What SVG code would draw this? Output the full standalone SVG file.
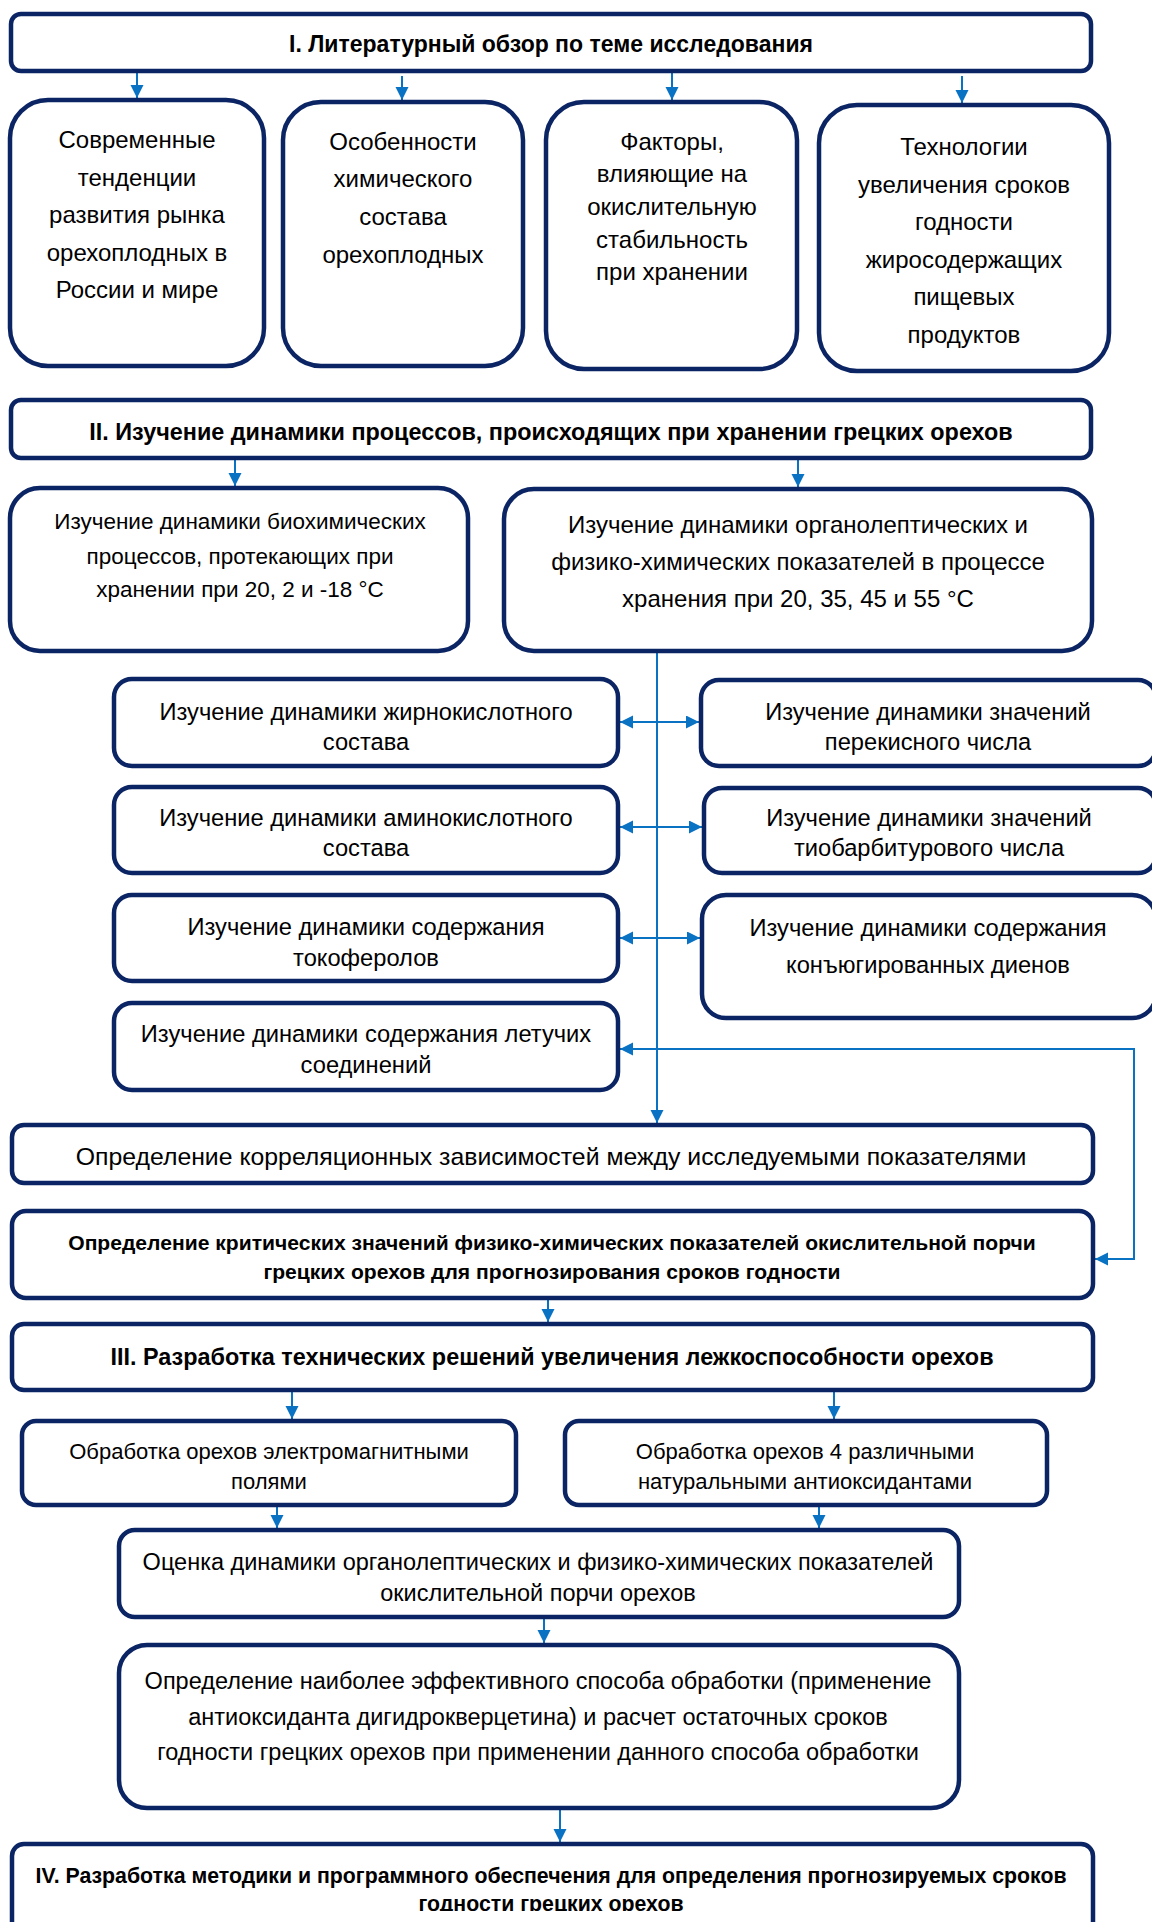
<svg xmlns="http://www.w3.org/2000/svg" width="1152" height="1922" viewBox="0 0 1152 1922">
<style>
.box{fill:#fff;stroke:#0b2463;stroke-width:4.5}
.t{font-family:"Liberation Sans",Arial,sans-serif;fill:#000;text-anchor:middle}
.b{font-weight:bold}
.c{fill:none;stroke:#0a72c2;stroke-width:2}
</style>
<defs>
<marker id="ah" markerUnits="userSpaceOnUse" markerWidth="14" markerHeight="14" refX="13" refY="6.5" orient="auto-start-reverse">
<path d="M0,0 L13,6.5 L0,13 z" fill="#0a72c2"/>
</marker>
<clipPath id="clipIV"><rect x="0" y="0" width="1152" height="1911"/></clipPath>
</defs>
<rect width="1152" height="1922" fill="#fff"/>

<g id="connectors">
<line class="c" x1="137" y1="73" x2="137" y2="98" marker-end="url(#ah)"/>
<line class="c" x1="402" y1="76" x2="402" y2="100" marker-end="url(#ah)"/>
<line class="c" x1="672" y1="73" x2="672" y2="100" marker-end="url(#ah)"/>
<line class="c" x1="962" y1="76" x2="962" y2="103" marker-end="url(#ah)"/>
<line class="c" x1="235" y1="460" x2="235" y2="486" marker-end="url(#ah)"/>
<line class="c" x1="798" y1="460" x2="798" y2="487" marker-end="url(#ah)"/>
<line class="c" x1="657" y1="653" x2="657" y2="1123" marker-end="url(#ah)"/>
<line class="c" x1="620" y1="722" x2="699" y2="722" marker-start="url(#ah)" marker-end="url(#ah)"/>
<line class="c" x1="620" y1="827" x2="702" y2="827" marker-start="url(#ah)" marker-end="url(#ah)"/>
<line class="c" x1="620" y1="938" x2="700" y2="938" marker-start="url(#ah)" marker-end="url(#ah)"/>
<path class="c" d="M620,1049 H1134 V1259 H1095" marker-start="url(#ah)" marker-end="url(#ah)"/>
<line class="c" x1="548" y1="1300" x2="548" y2="1322" marker-end="url(#ah)"/>
<line class="c" x1="292" y1="1392" x2="292" y2="1419" marker-end="url(#ah)"/>
<line class="c" x1="834" y1="1392" x2="834" y2="1419" marker-end="url(#ah)"/>
<line class="c" x1="277" y1="1507" x2="277" y2="1528" marker-end="url(#ah)"/>
<line class="c" x1="819" y1="1507" x2="819" y2="1528" marker-end="url(#ah)"/>
<line class="c" x1="544" y1="1619" x2="544" y2="1643" marker-end="url(#ah)"/>
<line class="c" x1="560" y1="1810" x2="560" y2="1842" marker-end="url(#ah)"/>
</g>

<g id="n_I">
<rect class="box" x="11" y="14" width="1080" height="57" rx="10"/>
<text class="t b" x="551" y="52" font-size="23">I. Литературный обзор по теме исследования</text>
</g>

<g id="n_A">
<rect class="box" x="10" y="100" width="254" height="266" rx="38"/>
<text class="t" font-size="24"><tspan x="137" y="148">Современные</tspan><tspan x="137" y="186">тенденции</tspan><tspan x="137" y="223">развития рынка</tspan><tspan x="137" y="261">орехоплодных в</tspan><tspan x="137" y="298">России и мире</tspan></text>
</g>

<g id="n_B">
<rect class="box" x="283" y="102" width="240" height="264" rx="38"/>
<text class="t" font-size="24"><tspan x="403" y="150">Особенности</tspan><tspan x="403" y="187">химического</tspan><tspan x="403" y="225">состава</tspan><tspan x="403" y="263">орехоплодных</tspan></text>
</g>

<g id="n_C">
<rect class="box" x="546" y="102" width="251" height="267" rx="38"/>
<text class="t" font-size="24"><tspan x="672" y="150">Факторы,</tspan><tspan x="672" y="182">влияющие на</tspan><tspan x="672" y="215">окислительную</tspan><tspan x="672" y="248">стабильность</tspan><tspan x="672" y="280">при хранении</tspan></text>
</g>

<g id="n_D">
<rect class="box" x="819" y="105" width="290" height="266" rx="38"/>
<text class="t" font-size="24"><tspan x="964" y="155">Технологии</tspan><tspan x="964" y="193">увеличения сроков</tspan><tspan x="964" y="230">годности</tspan><tspan x="964" y="268">жиросодержащих</tspan><tspan x="964" y="305">пищевых</tspan><tspan x="964" y="343">продуктов</tspan></text>
</g>

<g id="n_II">
<rect class="box" x="11" y="400" width="1080" height="58" rx="10"/>
<text class="t b" x="551" y="440" font-size="23.4">II. Изучение динамики процессов, происходящих при хранении грецких орехов</text>
</g>

<g id="n_IIA">
<rect class="box" x="10" y="488" width="458" height="163" rx="30"/>
<text class="t" font-size="22.5"><tspan x="240" y="529">Изучение динамики биохимических</tspan><tspan x="240" y="564">процессов, протекающих при</tspan><tspan x="240" y="597">хранении при 20, 2 и -18 °С</tspan></text>
</g>

<g id="n_IIB">
<rect class="box" x="504" y="489" width="588" height="162" rx="30"/>
<text class="t" font-size="24"><tspan x="798" y="533">Изучение динамики органолептических и</tspan><tspan x="798" y="570">физико-химических показателей в процессе</tspan><tspan x="798" y="607">хранения при 20, 35, 45 и 55 °С</tspan></text>
</g>

<g id="n_L1">
<rect class="box" x="114" y="679" width="504" height="87" rx="18"/>
<text class="t" font-size="23.7"><tspan x="366" y="720">Изучение динамики жирнокислотного</tspan><tspan x="366" y="750">состава</tspan></text>
</g>

<g id="n_L2">
<rect class="box" x="114" y="787" width="504" height="86" rx="18"/>
<text class="t" font-size="23.7"><tspan x="366" y="826">Изучение динамики аминокислотного</tspan><tspan x="366" y="856">состава</tspan></text>
</g>

<g id="n_L3">
<rect class="box" x="114" y="895" width="504" height="86" rx="18"/>
<text class="t" font-size="23.7"><tspan x="366" y="935">Изучение динамики содержания</tspan><tspan x="366" y="966">токоферолов</tspan></text>
</g>

<g id="n_L4">
<rect class="box" x="114" y="1003" width="504" height="87" rx="18"/>
<text class="t" font-size="23.7"><tspan x="366" y="1042">Изучение динамики содержания летучих</tspan><tspan x="366" y="1073">соединений</tspan></text>
</g>

<g id="n_R1">
<rect class="box" x="701" y="680" width="455" height="86" rx="18"/>
<text class="t" font-size="23.7"><tspan x="928" y="720">Изучение динамики значений</tspan><tspan x="928" y="750">перекисного числа</tspan></text>
</g>

<g id="n_R2">
<rect class="box" x="704" y="788" width="452" height="85" rx="18"/>
<text class="t" font-size="23.7"><tspan x="929" y="826">Изучение динамики значений</tspan><tspan x="929" y="856">тиобарбитурового числа</tspan></text>
</g>

<g id="n_R3">
<rect class="box" x="702" y="895" width="454" height="123" rx="24"/>
<text class="t" font-size="23.7"><tspan x="928" y="936">Изучение динамики содержания</tspan><tspan x="928" y="973">конъюгированных диенов</tspan></text>
</g>

<g id="n_corr">
<rect class="box" x="12" y="1125" width="1081" height="58" rx="12"/>
<text class="t" x="551" y="1165" font-size="24.8">Определение корреляционных зависимостей между исследуемыми показателями</text>
</g>

<g id="n_crit">
<rect class="box" x="12" y="1211" width="1081" height="87" rx="14"/>
<text class="t b" font-size="21.1"><tspan x="552" y="1250">Определение критических значений физико-химических показателей окислительной порчи</tspan><tspan x="552" y="1279">грецких орехов для прогнозирования сроков годности</tspan></text>
</g>

<g id="n_III">
<rect class="box" x="12" y="1324" width="1081" height="66" rx="12"/>
<text class="t b" x="552" y="1365" font-size="23.4">III. Разработка технических решений увеличения лежкоспособности орехов</text>
</g>

<g id="n_IIIA">
<rect class="box" x="22" y="1421" width="494" height="84" rx="14"/>
<text class="t" font-size="22"><tspan x="269" y="1459">Обработка орехов электромагнитными</tspan><tspan x="269" y="1489">полями</tspan></text>
</g>

<g id="n_IIIB">
<rect class="box" x="565" y="1421" width="482" height="84" rx="14"/>
<text class="t" font-size="22"><tspan x="805" y="1459">Обработка орехов 4 различными</tspan><tspan x="805" y="1489">натуральными антиоксидантами</tspan></text>
</g>

<g id="n_eval">
<rect class="box" x="119" y="1530" width="840" height="87" rx="16"/>
<text class="t" font-size="23.5"><tspan x="538" y="1570">Оценка динамики органолептических и физико-химических показателей</tspan><tspan x="538" y="1601">окислительной порчи орехов</tspan></text>
</g>

<g id="n_best">
<rect class="box" x="119" y="1645" width="840" height="163" rx="28"/>
<text class="t" font-size="23.5"><tspan x="538" y="1689">Определение наиболее эффективного способа обработки (применение</tspan><tspan x="538" y="1725">антиоксиданта дигидрокверцетина) и расчет остаточных сроков</tspan><tspan x="538" y="1760">годности грецких орехов при применении данного способа обработки</tspan></text>
</g>

<g id="n_IV">
<rect class="box" x="12" y="1844" width="1081" height="110" rx="12"/>
<text class="t b" font-size="21.3" clip-path="url(#clipIV)"><tspan x="551" y="1883">IV. Разработка методики и программного обеспечения для определения прогнозируемых сроков</tspan><tspan x="551" y="1911">годности грецких орехов</tspan></text>
</g>
</svg>
